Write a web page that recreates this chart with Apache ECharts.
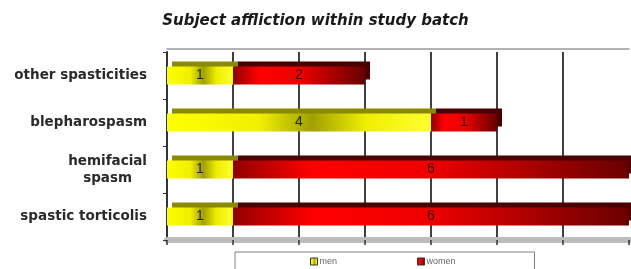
<!DOCTYPE html>
<html>
<head>
<meta charset="utf-8">
<script src="https://cdn.jsdelivr.net/npm/echarts@6/dist/echarts.min.js"></script>
<style>
  html, body { margin: 0; padding: 0; background: #fff; }
  #chart { width: 631px; height: 269px; }
</style>
</head>
<body>
<div id="chart"></div>
<script>
const categories = ['other spasticities', 'blepharospasm', 'hemifacial\nspasm', 'spastic torticolis']
const men = [1, 4, 1, 1]
const women = [2, 1, 6, 6]
const seriesNames = ['men', 'women']

const chart = echarts.init(document.getElementById('chart'))

// horizontal gradients, dark patch in the middle like the old 3D excel bars
const yellowFill = {
  type: 'linear', x: 0, y: 0, x2: 1, y2: 0,
  colorStops: [
    { offset: 0, color: '#ffff00' },
    { offset: 0.35, color: '#f0f000' },
    { offset: 0.55, color: '#a0a000' },
    { offset: 0.75, color: '#eeee00' },
    { offset: 1, color: '#ffff30' }
  ]
}
const redFill = {
  type: 'linear', x: 0, y: 0, x2: 1, y2: 0,
  colorStops: [
    { offset: 0, color: '#900000' },
    { offset: 0.2, color: '#ff0000' },
    { offset: 0.5, color: '#ee0000' },
    { offset: 1, color: '#680000' }
  ]
}

const option = {
  animation: false,
  backgroundColor: '#fff',
  title: {
    text: 'Subject affliction within study batch',
    left: 'center',
    top: 9,
    textStyle: {
      fontFamily: 'DejaVu Sans',
      fontStyle: 'italic',
      fontWeight: 'bold',
      fontSize: 15,
      color: '#1a1a1a'
    }
  },
  legend: {
    data: seriesNames,
    left: 235,
    top: 252,
    padding: [5, 79, 20, 75],
    itemGap: 80,
    itemWidth: 7,
    itemHeight: 7,
    icon: 'rect',
    itemStyle: { borderColor: '#333', borderWidth: 1, shadowColor: 'transparent' },
    borderColor: '#808080',
    borderWidth: 1,
    textStyle: { fontSize: 9, color: '#666', fontFamily: 'Liberation Sans', padding: [0, 0, 0, -3] }
  },
  grid: {
    left: 167,
    right: 2,
    top: 52,
    bottom: 29
  },
  xAxis: [
    {
      type: 'value',
      min: 0,
      max: 7,
      interval: 1,
      axisLabel: { show: false },
      axisLine: { show: true, lineStyle: { color: '#bdbdbd', width: 6 } },
      axisTick: { show: true, length: 5, lineStyle: { color: '#333', width: 1.5 } },
      splitLine: {
        show: true,
        showMinLine: false,
        showMaxLine: false,
        lineStyle: { color: '#404040', width: 2 }
      }
    },
    {
      // top edge of the back wall
      type: 'value',
      position: 'top',
      offset: 3,
      min: 0,
      max: 7,
      interval: 1,
      axisLabel: { show: false },
      axisTick: { show: false },
      splitLine: { show: false },
      axisLine: { show: true, lineStyle: { color: '#999', width: 1.5 } }
    }
  ],
  yAxis: {
    type: 'category',
    inverse: true,
    data: categories,
    axisLine: { show: true, lineStyle: { color: '#333', width: 2 } },
    axisTick: { show: true, length: 4, lineStyle: { color: '#333' } },
    axisLabel: {
      margin: 20,
      formatter: (v) => '{a|' + v + '}',
      rich: {
        a: {
          fontFamily: 'DejaVu Sans',
          fontWeight: 'bold',
          fontSize: 13.5,
          lineHeight: 17,
          color: '#2a2a2a',
          align: 'center'
        }
      }
    }
  },
  series: [
    {
      name: 'men',
      type: 'bar',
      stack: 'total',
      barWidth: 18,
      data: men,
      itemStyle: {
        color: yellowFill,
        borderWidth: 0,
        shadowColor: '#8a8a00',
        shadowOffsetX: 5,
        shadowOffsetY: -5,
        shadowBlur: 0
      },
      label: {
        show: true,
        position: 'inside',
        fontSize: 14,
        fontFamily: 'Liberation Sans',
        color: '#222'
      }
    },
    {
      name: 'women',
      type: 'bar',
      stack: 'total',
      barWidth: 18,
      data: women,
      itemStyle: {
        color: redFill,
        borderWidth: 0,
        shadowColor: '#4a0000',
        shadowOffsetX: 5,
        shadowOffsetY: -5,
        shadowBlur: 0
      },
      label: {
        show: true,
        position: 'inside',
        fontSize: 14,
        fontFamily: 'Liberation Sans',
        color: '#3a0000'
      }
    }
  ]
}

chart.setOption(option)
</script>
</body>
</html>
